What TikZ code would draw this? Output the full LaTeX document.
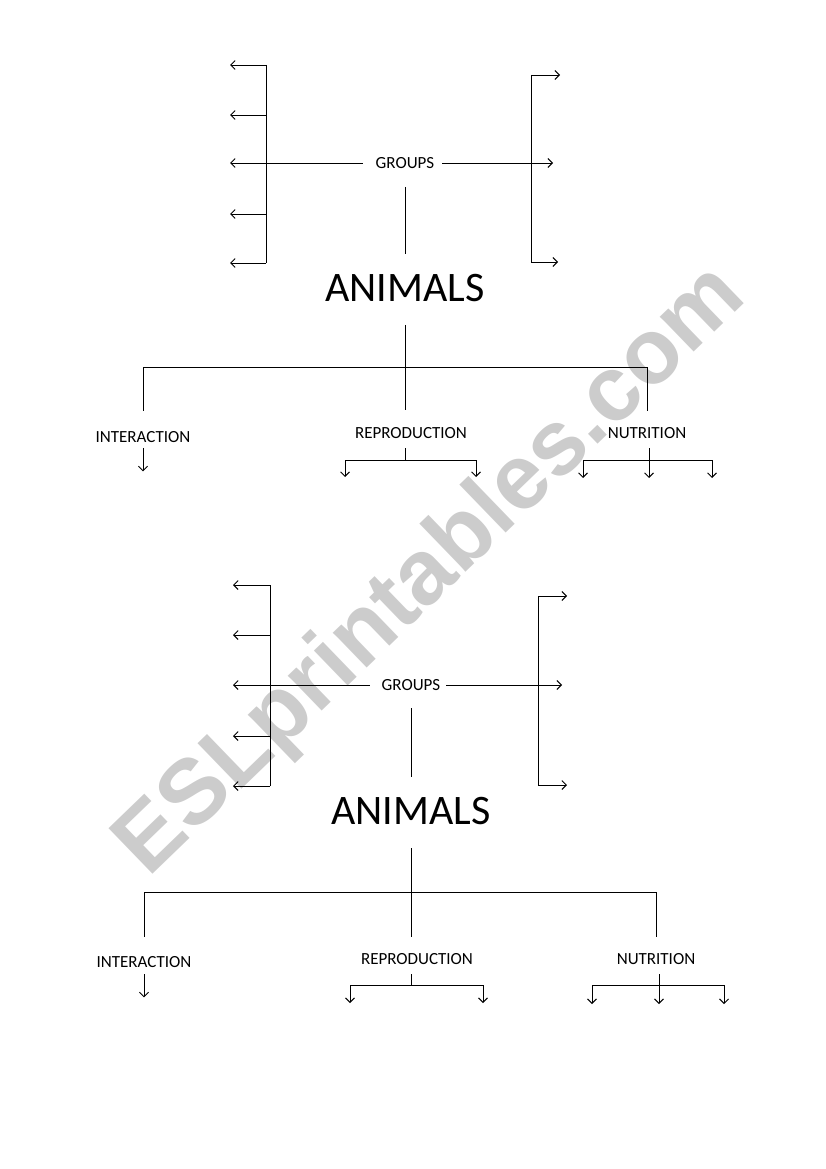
\documentclass[tikz,border=0pt]{standalone}
\usepackage{fontspec}
\setmainfont{Carlito}
\newfontfamily\markfont{Liberation Sans}
\usetikzlibrary{arrows.meta,positioning}
\tikzset{
  topic/.style={inner sep=0pt,font=\fontsize{17}{20}\selectfont},
  title/.style={inner sep=0pt,font=\fontsize{42}{48}\selectfont},
  link/.style={line width=0.9pt},
  pointer/.style={line width=0.9pt,-{Straight Barb[length=4.5pt,width=9pt]}},
  stamp/.style={rotate=44,text=black!20,inner sep=0pt,
    font=\markfont\bfseries\fontsize{92}{96}\selectfont}
}
\begin{document}
\begin{tikzpicture}[x=1pt,y=-1pt]
\useasboundingbox (0,0) rectangle (826,1169);

% watermark
\node[stamp] (mark) at (432,572) {ESLprintables.com};

% ---- first chart ----
\node[topic] (g1) at (405,163) {GROUPS};
\node[title] (a1) at (405,288) {ANIMALS};
\node[topic] (i1) at (143,437) {INTERACTION};
\node[topic] (r1) at (411,433) {REPRODUCTION};
\node[topic] (n1) at (647,433) {NUTRITION};

% left bracket
\coordinate (l1top) at (266,65);
\coordinate (l1bot) at (266,263);
\draw[link] (l1top) -- (l1bot);
\foreach \y [count=\j] in {65,115,214,263} {
  \coordinate (l1s\j) at (266,\y);
  \coordinate (l1e\j) at (230,\y);
  \draw[pointer] (l1s\j) -- (l1e\j);
}
\coordinate (l1m) at (230,0);
\draw[pointer,shorten <=13pt] (g1.west) -- (g1.west -| l1m);

% right bracket
\coordinate (r1top) at (531,75);
\coordinate (r1bot) at (531,262);
\coordinate (r1topE) at (560,75);
\coordinate (r1botE) at (558,262);
\draw[link] (r1top) -- (r1bot);
\draw[pointer] (r1top) -- (r1topE);
\draw[pointer] (r1bot) -- (r1botE);
\coordinate (r1m) at (553,0);
\draw[pointer,shorten <=8pt] (g1.east) -- (g1.east -| r1m);

\draw[link,shorten <=18pt,shorten >=20pt] (g1.south) -- (a1.north);

% branches
\coordinate (f1) at (405,367);
\draw[link,shorten <=23pt,shorten >=17pt] (a1.south) -- (a1.south |- r1.north);
\draw[link] (i1.north |- f1) -- (n1.north |- f1);
\draw[link,shorten >=20.5pt] (i1.north |- f1) -- (i1.north);
\draw[link,shorten >=16.5pt] (n1.north |- f1) -- (n1.north);

\coordinate[below=28.5pt of i1.south] (i1d);
\draw[pointer,shorten <=5pt] (i1.south) -- (i1d);

\coordinate (r1f) at (405,460);
\draw[link,shorten <=9.5pt] (a1.south |- r1.south) -- (r1f);
\foreach \x [count=\j] in {345,476} {
  \coordinate (r1t\j) at (\x,460);
  \coordinate (r1d\j) at (\x,477);
  \draw[pointer] (r1t\j) -- (r1d\j);
}
\draw[link] (r1t1) -- (r1t2);

\coordinate (n1d) at (649,478);
\draw[pointer,shorten <=9.5pt] (n1.south -| n1d) -- (n1d);
\foreach \x [count=\j] in {583,712} {
  \coordinate (n1t\j) at (\x,460);
  \coordinate (n1d\j) at (\x,478);
  \draw[pointer] (n1t\j) -- (n1d\j);
}
\draw[link] (n1t1) -- (n1t2);

% ---- second chart ----
\node[topic] (g2) at (411,685) {GROUPS};
\node[title] (a2) at (411,811) {ANIMALS};
\node[topic] (i2) at (144,962) {INTERACTION};
\node[topic] (r2) at (417,959) {REPRODUCTION};
\node[topic] (n2) at (656,959) {NUTRITION};

% left bracket
\coordinate (l2top) at (270,585);
\coordinate (l2bot) at (270,786);
\draw[link] (l2top) -- (l2bot);
\foreach \y [count=\j] in {585,635,736,786} {
  \coordinate (l2s\j) at (270,\y);
  \coordinate (l2e\j) at (233,\y);
  \draw[pointer] (l2s\j) -- (l2e\j);
}
\coordinate (l2m) at (233,0);
\draw[pointer,shorten <=12pt] (g2.west) -- (g2.west -| l2m);

% right bracket
\coordinate (r2top) at (538,596);
\coordinate (r2bot) at (538,785);
\coordinate (r2topE) at (567,596);
\coordinate (r2botE) at (567,785);
\draw[link] (r2top) -- (r2bot);
\draw[pointer] (r2top) -- (r2topE);
\draw[pointer] (r2bot) -- (r2botE);
\coordinate (r2m) at (562,0);
\draw[pointer,shorten <=6pt] (g2.east) -- (g2.east -| r2m);

\draw[link,shorten <=17.5pt,shorten >=20.5pt] (g2.south) -- (a2.north);

% branches
\coordinate (f2) at (411,892);
\draw[link,shorten <=23.5pt,shorten >=16.5pt] (a2.south) -- (a2.south |- r2.north);
\draw[link] (i2.north |- f2) -- (n2.north |- f2);
\draw[link,shorten >=19.5pt] (i2.north |- f2) -- (i2.north);
\draw[link,shorten >=16.5pt] (n2.north |- f2) -- (n2.north);

\coordinate[below=29.5pt of i2.south] (i2d);
\draw[pointer,shorten <=6.5pt] (i2.south) -- (i2d);

\coordinate (r2f) at (411,985);
\draw[link,shorten <=9.5pt] (a2.south |- r2.south) -- (r2f);
\foreach \x [count=\j] in {350,483} {
  \coordinate (r2t\j) at (\x,985);
  \coordinate (r2d\j) at (\x,1003);
  \draw[pointer] (r2t\j) -- (r2d\j);
}
\draw[link] (r2t1) -- (r2t2);

\coordinate (n2d) at (659,1004);
\draw[pointer,shorten <=9.5pt] (n2.south -| n2d) -- (n2d);
\foreach \x [count=\j] in {592,724} {
  \coordinate (n2t\j) at (\x,985);
  \coordinate (n2d\j) at (\x,1004);
  \draw[pointer] (n2t\j) -- (n2d\j);
}
\draw[link] (n2t1) -- (n2t2);

\end{tikzpicture}
\end{document}
